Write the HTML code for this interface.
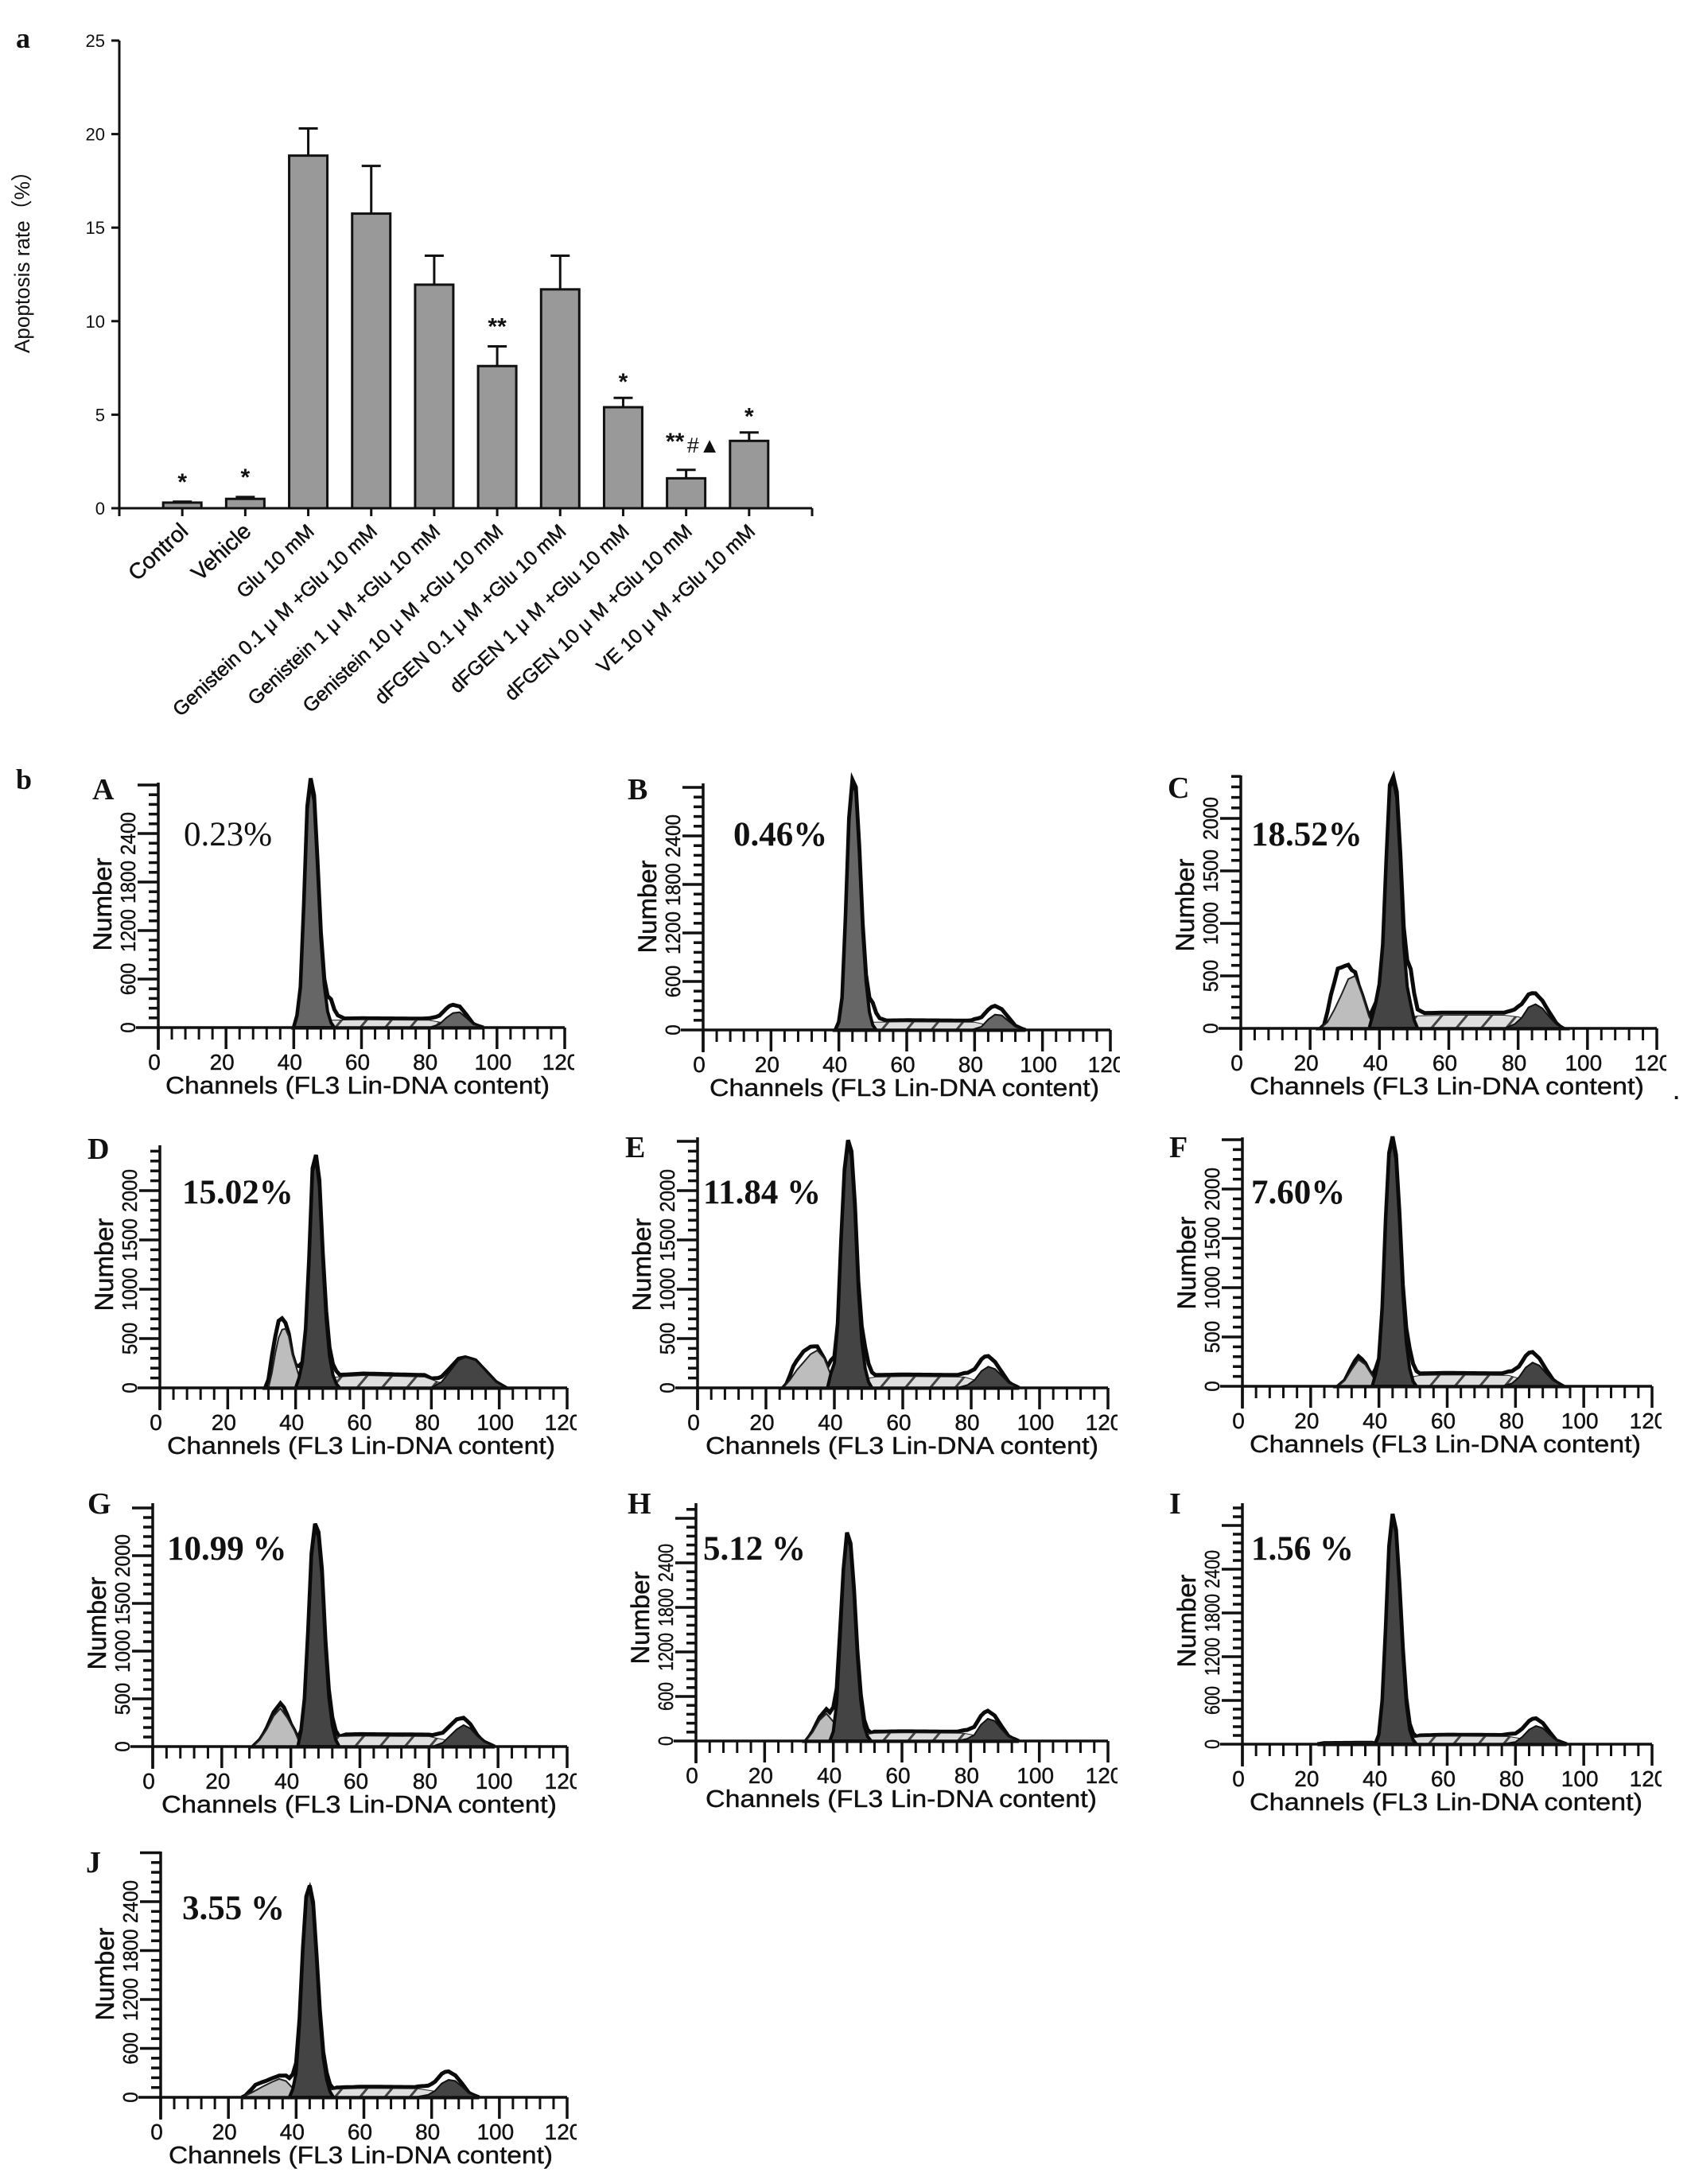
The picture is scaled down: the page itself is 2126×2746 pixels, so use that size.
<!DOCTYPE html>
<html><head><meta charset="utf-8"><title>Apoptosis rate and DNA content histograms</title>
<style>
html,body{margin:0;padding:0;background:#fff}
svg{display:block}
text{fill:#111}
.sans{font-family:"Liberation Sans",sans-serif}
.serif{font-family:"Liberation Serif",serif}
</style></head>
<body>
<svg id="fig" xmlns="http://www.w3.org/2000/svg" width="2126" height="2746" viewBox="0 0 2126 2746">
<defs>
<pattern id="hatch" patternUnits="userSpaceOnUse" width="24" height="24" patternTransform="rotate(40)">
<rect width="24" height="24" fill="#dedede"/><rect width="3" height="24" fill="#444"/>
</pattern>
</defs>
<rect width="2126" height="2746" fill="#fff"/>
<text x="20" y="60" class="serif" font-weight="bold" font-size="36">a</text>
<text x="20" y="992" class="serif" font-weight="bold" font-size="36">b</text>
<text x="2104" y="1382" class="sans" font-weight="bold" font-size="26">.</text>
<g id="bars"></g>
<g id="flow"></g>
</svg>
<script>
// ---- Bar chart data ----
const barCategories = ["Control","Vehicle","Glu 10 mM","Genistein 0.1 μ M +Glu 10 mM","Genistein 1 μ M +Glu 10 mM","Genistein 10 μ M +Glu 10 mM","dFGEN 0.1 μ M +Glu 10 mM","dFGEN 1 μ M +Glu 10 mM","dFGEN 10 μ M +Glu 10 mM","VE 10 μ M +Glu 10 mM"];
const barValues = [0.3,0.5,18.85,15.75,11.95,7.6,11.7,5.4,1.6,3.6];
const barErrors = [0.05,0.1,1.45,2.55,1.55,1.05,1.8,0.5,0.45,0.45];
const barMarks = ["*","*","","","","**","","*","**","*"];
const barYTicks = [0,5,10,15,20,25];

// ---- Flow histogram data: [channel, count] ----
const A_g1 = [[40,0],[41,150],[42,500],[43,1500],[44,2700],[45,3030],[46,2800],[47,2000],[48,1100],[49,520],[50,200],[51,60],[52,0]];
const A_s = [[42,0],[46,70],[50,90],[60,95],[80,90],[84,60],[90,25],[94,0]];
const A_g2 = [[80,0],[83,40],[85,120],[87,180],[89,190],[91,120],[93,40],[96,0]];
const A_apop = [];
const A_excess = [[49,0],[51,200],[53,60],[55,20],[78,20],[82,30],[86,70],[89,40],[93,0]];

const B_g1 = [[39,0],[40,100],[41,400],[42,1400],[43,2600],[44,3060],[45,2950],[46,2200],[47,1250],[48,600],[49,220],[50,60],[51,0]];
const B_s = [[42,0],[46,70],[50,95],[60,100],[80,95],[84,60],[90,25],[94,0]];
const B_g2 = [[79,0],[82,40],[84,130],[86,190],[88,180],[90,110],[92,40],[95,0]];
const B_apop = [];
const B_excess = [[48,0],[50,180],[52,50],[54,20],[78,20],[81,30],[85,70],[88,40],[92,0]];

const C_g1 = [[37,0],[38,120],[39,250],[40,420],[41,800],[42,1600],[43,2300],[44,2360],[45,2200],[46,1600],[47,800],[48,400],[49,230],[50,80],[51,0]];
const C_s = [[42,0],[47,90],[51,120],[60,125],[76,125],[80,110],[85,60],[90,20],[92,0]];
const C_g2 = [[76,0],[79,40],[81,100],[83,200],[85,230],[87,190],[89,110],[91,40],[93,0]];
const C_apop = [[23,0],[25,60],[27,180],[29,320],[31,470],[33,500],[35,320],[37,110],[39,0]];
const C_excess = [[24,0],[26,200],[28,320],[30,200],[32,70],[34,0],[46,0],[49,230],[51,60],[53,25],[78,25],[81,30],[84,50],[87,30],[91,0]];

const D_g1 = [[40,0],[41,100],[42,260],[43,600],[44,1300],[45,2200],[46,2320],[47,2050],[48,1300],[49,700],[50,320],[51,130],[52,40],[53,0]];
const D_s = [[43,0],[48,70],[52,110],[60,125],[78,110],[82,60],[86,30],[90,0]];
const D_g2 = [[80,0],[83,60],[86,190],[88,280],[90,310],[93,280],[96,170],[99,60],[102,0]];
const D_apop = [[32,0],[33,150],[34,350],[35,510],[36,590],[37,600],[38,520],[39,340],[40,230],[41,120],[42,0]];
const D_excess = [[31,0],[33,170],[35,170],[37,60],[39,0],[50,0],[52,20],[78,20],[82,0]];

const E_g1 = [[38,0],[39,150],[40,250],[41,650],[42,1500],[43,2200],[44,2480],[45,2350],[46,1800],[47,1000],[48,480],[49,200],[50,60],[51,0]];
const E_s = [[42,0],[47,80],[52,110],[60,115],[78,110],[82,70],[88,25],[92,0]];
const E_g2 = [[76,0],[79,30],[81,80],[83,170],[85,215],[87,190],[89,120],[91,50],[94,0]];
const E_apop = [[25,0],[27,80],[29,180],[31,260],[33,340],[35,380],[37,300],[39,130],[41,0]];
const E_excess = [[26,0],[28,90],[31,110],[34,60],[37,0],[47,0],[49,120],[52,20],[78,20],[81,30],[84,70],[87,40],[91,0]];

const F_g1 = [[38,0],[39,120],[40,280],[41,800],[42,1700],[43,2350],[44,2500],[45,2300],[46,1700],[47,950],[48,450],[49,180],[50,50],[51,0]];
const F_s = [[42,0],[47,80],[52,110],[60,115],[78,110],[82,70],[88,25],[92,0]];
const F_g2 = [[76,0],[79,30],[81,90],[83,190],[85,240],[87,210],[89,130],[91,60],[94,0]];
const F_apop = [[28,0],[30,60],[32,170],[34,270],[36,220],[38,110],[40,0]];
const F_excess = [[30,0],[33,40],[35,30],[37,0],[47,0],[49,110],[52,20],[78,20],[81,30],[84,70],[87,40],[91,0]];

const G_g1 = [[42,0],[43,170],[44,500],[45,1200],[46,2000],[47,2300],[48,2200],[49,1800],[50,1050],[51,520],[52,220],[53,70],[54,0]];
const G_s = [[44,0],[50,70],[54,105],[60,110],[80,105],[84,75],[90,30],[94,0]];
const G_g2 = [[81,0],[84,40],[86,110],[88,180],[90,225],[92,190],[94,110],[96,50],[99,0]];
const G_apop = [[29,0],[31,70],[33,180],[35,320],[37,400],[39,300],[41,170],[43,0]];
const G_excess = [[32,0],[35,40],[38,60],[40,0],[54,0],[56,20],[80,20],[84,30],[88,60],[91,40],[95,0]];

const H_g1 = [[39,0],[40,130],[41,520],[42,1400],[43,2300],[44,2780],[45,2620],[46,2000],[47,1150],[48,550],[49,200],[50,60],[51,0]];
const H_s = [[42,0],[47,70],[52,105],[60,110],[78,105],[82,70],[88,25],[92,0]];
const H_g2 = [[76,0],[79,30],[81,80],[83,220],[85,300],[87,270],[89,160],[91,60],[94,0]];
const H_apop = [[32,0],[34,120],[36,280],[38,370],[40,260],[41,130],[43,0]];
const H_excess = [[33,0],[36,40],[39,70],[41,60],[43,0],[50,0],[52,20],[78,20],[81,30],[84,70],[87,40],[91,0]];

const I_g1 = [[39,0],[40,130],[41,600],[42,1600],[43,2700],[44,3130],[45,2900],[46,2150],[47,1250],[48,560],[49,200],[50,60],[51,0]];
const I_s = [[42,0],[47,70],[52,100],[60,110],[78,105],[82,75],[88,30],[92,0]];
const I_g2 = [[76,0],[80,30],[82,100],[84,200],[86,250],[88,220],[90,130],[92,50],[95,0]];
const I_apop = [[22,0],[24,15],[38,20],[40,0]];
const I_excess = [[50,0],[52,20],[78,20],[81,30],[85,70],[88,40],[92,0]];

const J_g1 = [[38,0],[39,100],[40,300],[41,900],[42,1800],[43,2450],[44,2570],[45,2350],[46,1700],[47,1000],[48,480],[49,220],[50,70],[51,0]];
const J_s = [[42,0],[47,70],[52,100],[60,110],[76,105],[80,80],[86,35],[92,0]];
const J_g2 = [[75,0],[79,30],[81,80],[83,170],[85,215],[87,200],[89,130],[91,50],[94,0]];
const J_apop = [[24,0],[27,60],[30,130],[33,190],[35,225],[37,200],[39,110],[41,0]];
const J_excess = [[25,0],[28,70],[31,50],[35,40],[38,80],[41,60],[43,0],[50,0],[52,20],[76,20],[80,30],[84,70],[87,40],[91,0]];

const xTickValues = [0,20,40,60,80,100,120];
const yTicks600 = [0,600,1200,1800,2400];
const yTicks500 = [0,500,1000,1500,2000];
const percentLabels = ["0.23%","0.46%","18.52%","15.02%","11.84 %","7.60%","10.99 %","5.12 %","1.56 %","3.55 %"];
const panelLetters = ["A","B","C","D","E","F","G","H","I","J"];

const NS = "http://www.w3.org/2000/svg";
function mk(parent, tag, attrs, txt){
  const el = document.createElementNS(NS, tag);
  for (const k in attrs) el.setAttribute(k, attrs[k]);
  if (txt !== undefined) el.textContent = txt;
  parent.appendChild(el);
  return el;
}

// ---- Bar chart ----
(function(){
  const root = document.getElementById('bars');
  const X0 = 150, XEND = 1021, Y0 = 639, YTOP = 51, YMAX = 25;
  const step = (XEND - X0) / (barCategories.length + 1);
  const y = v => Y0 - v / YMAX * (Y0 - YTOP);
  const x = i => X0 + step * (i + 1);

  barValues.forEach((v, i) => {
    const cx = x(i), top = y(v), errTop = y(v + barErrors[i]);
    const stem = mk(root, 'path', {d:`M${cx} ${top}V${errTop}M${cx-12} ${errTop}H${cx+12}`, fill:'none', stroke:'#111', 'stroke-width':3});
    
    
    const bar = mk(root, 'rect', {x:cx-24, y:top, width:48, height:Y0-top, fill:'#999', stroke:'#111', 'stroke-width':3});
    
    
    const mark = barMarks[i];
    if (mark) {
      const isDouble = i === 8;
      const off = isDouble ? 42 : (i === 7 || i === 9 ? 26 : 31);
      const m = mk(root, 'text', {x: isDouble ? cx-14 : cx, y: errTop-off+16, 'text-anchor':'middle', 'font-size':30, 'font-weight':'bold', class:'sans'}, mark);
      
      
    }
    if (i === 8) {
      const extra = mk(root, 'text', {x:cx+22, y:errTop-22, 'text-anchor':'middle', 'font-size':27, class:'sans'}, '#▲');
      
      
    }
    const tick = mk(root, 'line', {x1:cx, x2:cx, y1:Y0, y2:Y0+10, stroke:'#111', 'stroke-width':3});
    
    
    const lab = mk(root, 'text', {transform:`translate(${cx+9} ${Y0+31}) rotate(-43)`, 'text-anchor':'end', 'font-size':i<2?28:25, stroke:'#111', 'stroke-width':0.5, class:'sans'}, barCategories[i]);
    
    
  });

  const ax = mk(root, 'path', {d:`M${X0} ${YTOP}V${Y0}H${XEND}M${X0} ${Y0}v10M${XEND} ${Y0}v10`, fill:'none', stroke:'#111', 'stroke-width':3});
  
  
  barYTicks.forEach(v => {
    const t = mk(root, 'line', {x1:X0-10, x2:X0, y1:y(v), y2:y(v), stroke:'#111', 'stroke-width':3});
    
    
    const l = mk(root, 'text', {x:X0-18, y:y(v)+8, 'text-anchor':'end', 'font-size':22, class:'sans'}, String(v));
    
    
  });
  const title = mk(root, 'text', {transform:'translate(37 323) rotate(-90)', 'text-anchor':'middle', 'font-size':27, textLength:242, lengthAdjust:'spacingAndGlyphs', class:'sans'}, 'Apoptosis rate（%）');
  
  
})();

// ---- Flow panels ----
const panelLayouts = [
 {g1:A_g1,s:A_s,g2:A_g2,ap:A_apop,ex:A_excess,x0:199,x120:710,base:1292,top:984,unit:61,ticks:yTicks600,col:'#666',lx:130,ly:992,px:231,py:1050,bold:false,cx:208,cw:483},
 {g1:B_g1,s:B_s,g2:B_g2,ap:B_apop,ex:B_excess,x0:884,x120:1396,base:1295,top:985,unit:61,ticks:yTicks600,col:'#666',lx:803,ly:992,px:922,py:1050,bold:true,cx:892,cw:490},
 {g1:C_g1,s:C_s,g2:C_g2,ap:C_apop,ex:C_excess,x0:1560,x120:2083,base:1293,top:975,unit:66,ticks:yTicks500,col:'#444',lx:1482,ly:990,px:1573,py:1050,bold:true,cx:1571,cw:496},
 {g1:D_g1,s:D_s,g2:D_g2,ap:D_apop,ex:D_excess,x0:201,x120:713,base:1745,top:1440,unit:62,ticks:yTicks500,col:'#444',lx:124,ly:1444,px:229,py:1500,bold:true,cx:210,cw:488},
 {g1:E_g1,s:E_s,g2:E_g2,ap:E_apop,ex:E_excess,x0:877,x120:1393,base:1745,top:1430,unit:62,ticks:yTicks500,col:'#444',lx:800,ly:1442,px:884,py:1500,bold:true,cx:887,cw:494},
 {g1:F_g1,s:F_s,g2:F_g2,ap:F_apop,ex:F_excess,x0:1562,x120:2077,base:1743,top:1430,unit:62,ticks:yTicks500,col:'#444',lx:1484,ly:1442,px:1573,py:1500,bold:true,cx:1571,cw:492},
 {g1:G_g1,s:G_s,g2:G_g2,ap:G_apop,ex:G_excess,x0:192,x120:713,base:2196,top:1890,unit:60,ticks:yTicks500,col:'#444',lx:124,ly:1890,px:210,py:1948,bold:true,cx:203,cw:497},
 {g1:H_g1,s:H_s,g2:H_g2,ap:H_apop,ex:H_excess,x0:875,x120:1393,base:2189,top:1890,unit:56,ticks:yTicks600,col:'#444',lx:803,ly:1890,px:884,py:1948,bold:true,cx:887,cw:492},
 {g1:I_g1,s:I_s,g2:I_g2,ap:I_apop,ex:I_excess,x0:1562,x120:2077,base:2193,top:1890,unit:55,ticks:yTicks600,col:'#444',lx:1484,ly:1890,px:1573,py:1948,bold:true,cx:1571,cw:494},
 {g1:J_g1,s:J_s,g2:J_g2,ap:J_apop,ex:J_excess,x0:202,x120:713,base:2637,top:2328,unit:61.5,ticks:yTicks600,col:'#444',lx:122,ly:2341,px:229,py:2400,bold:true,cx:212,cw:483}
];

function interp(series, ch){
  if (!series.length || ch <= series[0][0] || ch >= series[series.length-1][0]) return 0;
  for (let i = 1; i < series.length; i++) {
    if (ch <= series[i][0]) {
      const a = series[i-1], b = series[i];
      return a[1] + (b[1]-a[1]) * (ch-a[0]) / (b[0]-a[0]);
    }
  }
  return 0;
}

panelLayouts.forEach((p, idx) => {
  const root = mk(document.getElementById('flow'), 'g', {});
  
  
  const X = ch => p.x0 + ch / 120 * (p.x120 - p.x0);
  const Y = c => p.base - c * p.unit / (p.ticks[1]);
  const area = s => 'M' + s.map(d => X(d[0]).toFixed(1) + ' ' + Y(d[1]).toFixed(1)).join('L') + 'Z';

  // envelope: sum of all fitted components plus raw excess
  const env = [];
  const all = [p.g1, p.s, p.g2, p.ap, p.ex];
  let lo = 120, hi = 0;
  all.forEach(s => { if (s.length) { lo = Math.min(lo, s[0][0]); hi = Math.max(hi, s[s.length-1][0]); } });
  for (let c = lo; c <= hi; c++) {
    let sum = 0;
    all.forEach(s => { sum += interp(s, c); });
    env.push([c, sum]);
  }
  const e = mk(root, 'path', {d:area(env), fill:'#fff', stroke:'#0a0a0a', 'stroke-width':5, 'stroke-linejoin':'miter'});
  
  
  const sp = mk(root, 'path', {d:area(p.s), fill:'url(#hatch)', stroke:'#222', 'stroke-width':1});
  
  
  if (p.ap.length) {
    const ap = mk(root, 'path', {d:area(p.ap), fill:'#bdbdbd', stroke:'#222', 'stroke-width':2});
    
    
  }
  const g2 = mk(root, 'path', {d:area(p.g2), fill:p.col, stroke:'#111', 'stroke-width':2});
  
  
  const g1 = mk(root, 'path', {d:area(p.g1), fill:p.col, stroke:'#0a0a0a', 'stroke-width':4});
  
  

  // axes
  const ax = mk(root, 'path', {d:`M${p.x0} ${p.top}V${p.base+28}M${p.x0-28} ${p.base}H${p.x120}`, fill:'none', stroke:'#111', 'stroke-width':3.5});
  
  
  for (let c = 0; c <= 120; c += 4) {
    const major = c % 20 === 0;
    const t = mk(root, 'line', {x1:X(c), x2:X(c), y1:p.base, y2:p.base+(major?27:15), stroke:'#111', 'stroke-width':major?3.5:3});
    
    
  }
  const minor = p.ticks[1] / 5;
  for (let c = minor; Y(c) >= p.top; c += minor) {
    const major = Math.abs(c / p.ticks[1] - Math.round(c / p.ticks[1])) < 1e-6;
    const t = mk(root, 'line', {x1:p.x0-(major?26:12), x2:p.x0, y1:Y(c), y2:Y(c), stroke:'#111', 'stroke-width':3.5});
    
    
  }
  // labels
  const clipId = 'clip' + idx;
  const defs = mk(root, 'clipPath', {id:clipId});
  mk(defs, 'rect', {x:p.x0-40, y:p.base, width:p.x120-p.x0+52, height:120});
  const xLabels = mk(root, 'g', {'clip-path':`url(#${clipId})`});
  
  
  xTickValues.forEach(v => {
    const l = mk(xLabels, 'text', {x:X(v)-5, y:p.base+53, 'text-anchor':'middle', 'font-size':28, stroke:'#111', 'stroke-width':0.4, class:'sans'}, String(v));
    
    
  });
  const xt = mk(root, 'text', {x:p.cx, y:p.base+83, 'font-size':31, stroke:'#111', 'stroke-width':0.4, textLength:p.cw, lengthAdjust:'spacingAndGlyphs', class:'sans'}, 'Channels (FL3 Lin-DNA content)');
  
  
  p.ticks.forEach(v => {
    const len = String(v).length;
    const l = mk(root, 'text', {transform:`translate(${p.x0-29} ${Y(v)}) rotate(-90)`, 'text-anchor':'middle', 'font-size':26, stroke:'#111', 'stroke-width':0.4, textLength:len*(p.unit<58?12:13.5), lengthAdjust:'spacingAndGlyphs', class:'sans'}, String(v));
    
    
  });
  const yt = mk(root, 'text', {transform:`translate(${p.x0-59} ${p.base-155}) rotate(-90)`, 'text-anchor':'middle', 'font-size':32, stroke:'#111', 'stroke-width':0.5, textLength:117, lengthAdjust:'spacingAndGlyphs', class:'sans'}, 'Number');
  
  
  const letter = mk(root, 'text', {x:p.lx-14, y:p.ly+13, 'font-size':38, 'font-weight':'bold', class:'serif'}, panelLetters[idx]);
  
  
  const pct = mk(root, 'text', {x:p.px, y:p.py+13, 'font-size':43, 'font-weight':p.bold?'bold':'normal', class:'serif'}, percentLabels[idx]);
  
  
});
</script>
</body></html>
